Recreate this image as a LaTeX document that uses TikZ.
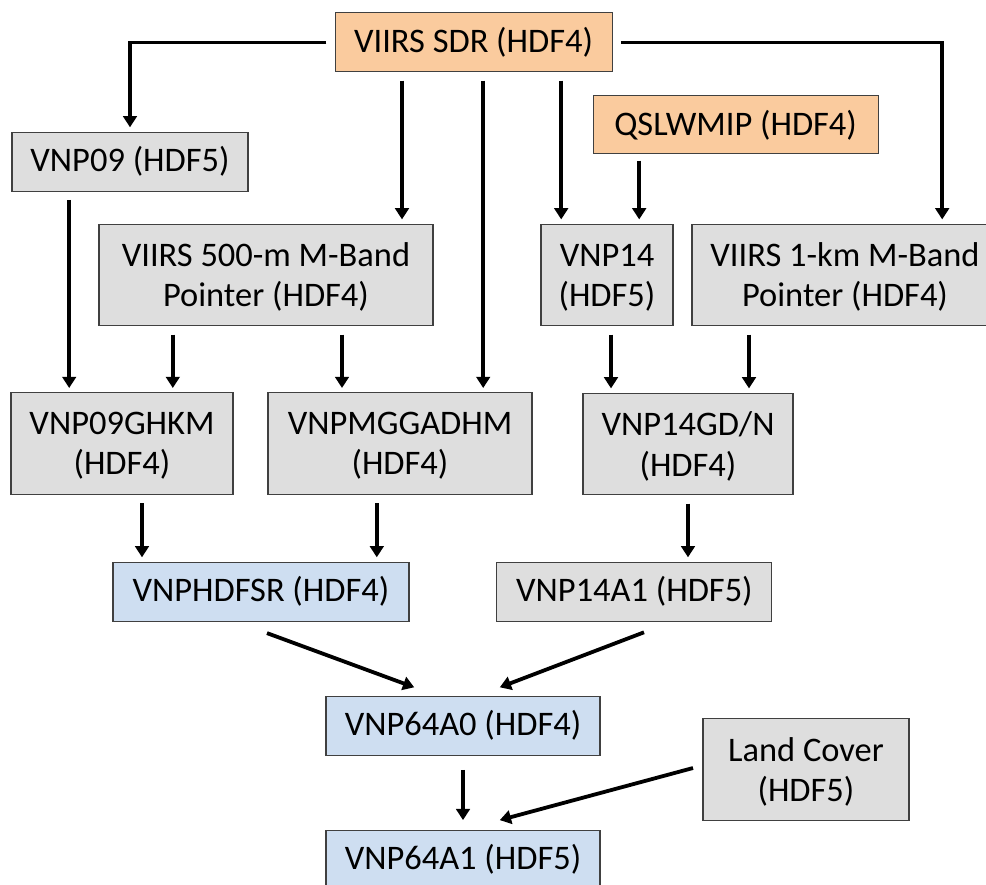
\documentclass[tikz,border=0pt]{standalone}
\usepackage{fontspec}
\setmainfont{Carlito}
\usepackage{tikz}
\usetikzlibrary{positioning}
\usetikzlibrary{arrows.meta}

\definecolor{sdrorange}{RGB}{250,203,158}
\definecolor{prodgray}{RGB}{222,222,222}
\definecolor{prodblue}{RGB}{206,222,241}

\begin{document}
\begin{tikzpicture}[
	nosep/.style={inner sep=0pt, outer sep=0pt},
	box/.style={rectangle, draw=black!75, line width=0.8pt, fill=prodgray, nosep, align=center, minimum height=1.475cm, font=\fontsize{24.5}{28.5}\selectfont},
	tallbox/.style={box, minimum height=2.54cm, text depth=0pt},
	inbox/.style={box, fill=sdrorange},
	outbox/.style={box, fill=prodblue},
	arrow/.style={line width=2.7pt, black, -{Triangle[width=0.34cm,length=0.28cm]}, shorten <=0.22cm, shorten >=0.12cm},
	diag/.style={arrow, shorten <=0pt, shorten >=0pt}
]

% Page frame (right and bottom boxes are cut off)
\useasboundingbox (0,0) rectangle (24.65,-22.1);

% Input data
\node[inbox, minimum width=6.925cm] (sdr) at (11.84,-1.06) {VIIRS SDR (HDF4)};
\node[inbox, minimum width=7.125cm, minimum height=1.45cm] (qsl) at (18.39,-3.12) {QSLWMIP (HDF4)};

% Intermediate products
\node[box, minimum width=5.9cm] (vnp09) at (3.25,-4.04) {VNP09 (HDF5)};
\node[tallbox, minimum width=8.35cm] (pt500) at (6.65,-6.875) {VIIRS 500-m M-Band\\Pointer (HDF4)};
\node[tallbox, minimum width=3.3cm] (vnp14) at (15.175,-6.875) {VNP14\\(HDF5)};
\node[tallbox, minimum width=7.65cm] (pt1km) at (21.125,-6.875) {VIIRS 1-km M-Band\\Pointer (HDF4)};
\node[tallbox, minimum width=5.55cm] (ghkm) at (3.05,-11.09) {VNP09GHKM\\(HDF4)};
\node[tallbox, minimum width=6.6cm] (mgg) at (10,-11.09) {VNPMGGADHM\\(HDF4)};
\node[tallbox, minimum width=5.25cm] (gdn) at (17.2,-11.1) {VNP14GD/N\\(HDF4)};
\node[outbox, minimum width=7.4cm] (hdfsr) at (6.525,-14.79) {VNPHDFSR (HDF4)};
\node[box, minimum width=6.875cm] (fire) at (15.86,-14.79) {VNP14A1 (HDF5)};
\node[tallbox, minimum width=5.15cm] (lc) at (20.15,-19.24) {Land Cover\\(HDF5)};

% Burned area products
\node[outbox, minimum width=6.85cm] (a0) at (11.575,-18.14) {VNP64A0 (HDF4)};
\node[outbox, minimum width=6.85cm] (a1) at (11.575,-21.49) {VNP64A1 (HDF5)};

% From VIIRS SDR
\draw[arrow] (sdr.west) -| (vnp09.north);
\draw[arrow] (sdr.east) -| ([xshift=2.43cm]pt1km.north);
\draw[arrow] ([xshift=-1.79cm]sdr.south) -- ([xshift=-1.79cm]sdr.south |- pt500.north);
\draw[arrow] ([xshift=0.24cm]sdr.south) -- ([xshift=0.24cm]sdr.south |- mgg.north);
\draw[arrow] ([xshift=2.19cm]sdr.south) -- ([xshift=2.19cm]sdr.south |- vnp14.north);
\draw[arrow, shorten <=0.17cm] ([xshift=-2.41cm]qsl.south) -- ([xshift=-2.41cm]qsl.south |- vnp14.north);

% Gridding
\draw[arrow] ([xshift=-1.52cm]vnp09.south) -- ([xshift=-1.52cm]vnp09.south |- ghkm.north);
\draw[arrow] ([xshift=-2.33cm]pt500.south) -- ([xshift=-2.33cm]pt500.south |- ghkm.north);
\draw[arrow] ([xshift=1.9cm]pt500.south) -- ([xshift=1.9cm]pt500.south |- mgg.north);
\draw[arrow] ([xshift=0.1cm]vnp14.south) -- ([xshift=0.1cm]vnp14.south |- gdn.north);
\draw[arrow] ([xshift=-2.4cm]pt1km.south) -- ([xshift=-2.4cm]pt1km.south |- gdn.north);

% Surface reflectance and active fire
\draw[arrow] ([xshift=0.5cm]ghkm.south) -- ([xshift=0.5cm]ghkm.south |- hdfsr.north);
\draw[arrow] ([xshift=-0.58cm]mgg.south) -- ([xshift=-0.58cm]mgg.south |- hdfsr.north);
\draw[arrow] (gdn.south) -- (gdn.south |- fire.north);

% Burned area
\draw[diag] ([xshift=0.15cm,yshift=-0.3cm]hdfsr.south) -- ([xshift=-1.22cm,yshift=0.22cm]a0.north);
\draw[diag] ([xshift=0.24cm,yshift=-0.28cm]fire.south) -- ([xshift=0.92cm,yshift=0.22cm]a0.north);
\draw[arrow, shorten <=0.37cm, shorten >=0.25cm] (a0.south) -- (a1.north);
\draw[diag] ([xshift=-0.25cm,yshift=0.04cm]lc.west) -- ([xshift=0.92cm,yshift=0.25cm]a1.north);

\end{tikzpicture}
\end{document}
